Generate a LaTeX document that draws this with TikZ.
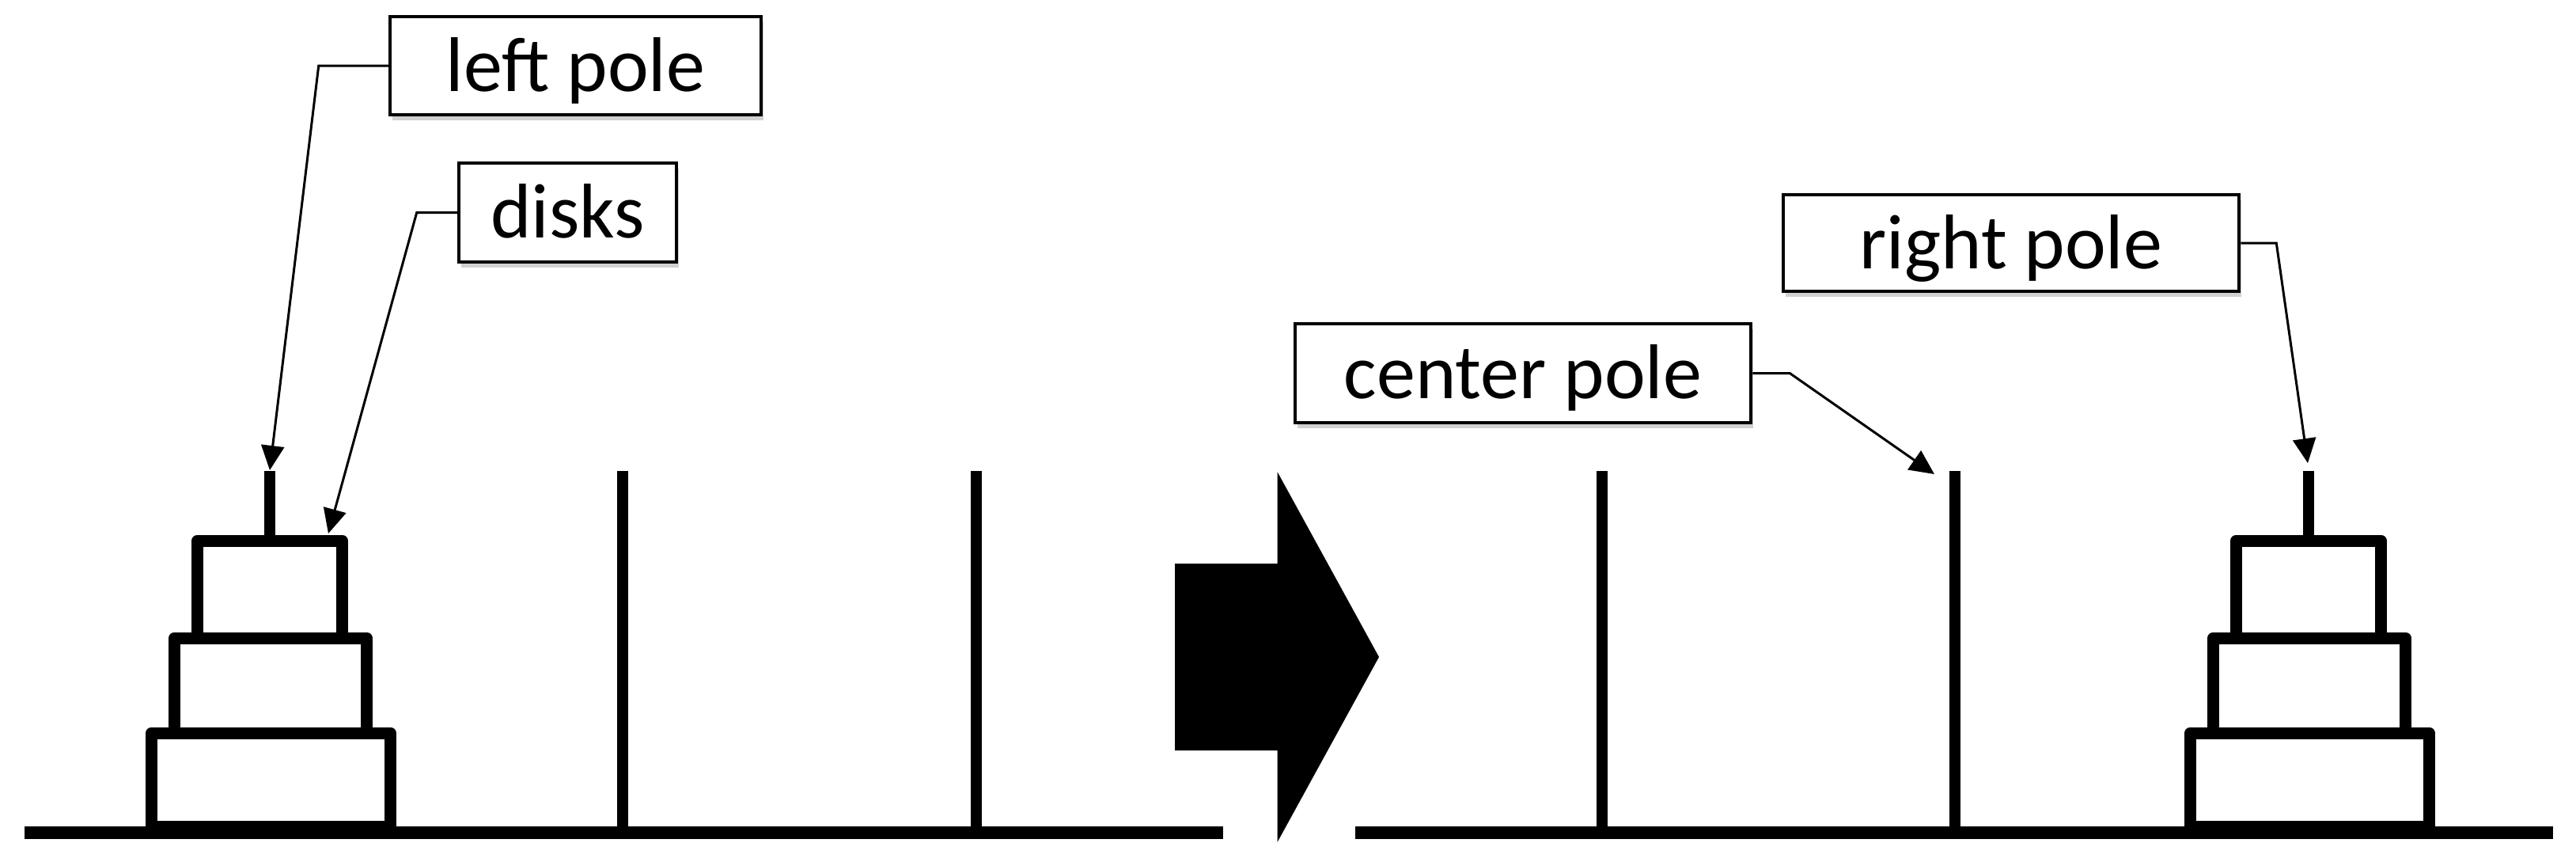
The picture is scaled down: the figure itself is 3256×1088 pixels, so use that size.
\documentclass[tikz,border=0pt]{standalone}
\usepackage{fontspec}
\setmainfont{Carlito}
\usetikzlibrary{arrows.meta,shadows}
\begin{document}
\begin{tikzpicture}[x=1pt,y=-1pt,
  label box/.style={draw=black,line width=4.5pt,fill=white,inner sep=0pt,
    font=\fontsize{98}{116}\selectfont,text height=84pt,text depth=20pt,
    drop shadow={shadow xshift=3pt,shadow yshift=-7pt,fill=black,opacity=0.18}},
  callout/.style={draw=black,line width=3pt,-{Triangle[length=31pt,width=29pt]}},
  pole/.style={line width=14pt},
  base/.style={line width=16pt},
  disk/.style={draw=black,line width=15pt,fill=white,line join=round}]
\useasboundingbox (0,0) rectangle (3256,1088);
% bases
\draw[base] (31,1052) coordinate (bl1) -- (1546,1052) coordinate (bl2);
\draw[base] (1713,1052) coordinate (br1) -- (3227,1052) coordinate (br2);
% poles
\foreach \x/\n in {341/a,787/b,1234/c,2025/d,2471/e,2918/f}{
  \coordinate (top\n) at (\x,595);
  \draw[pole] (top\n) -- (\x,1052);
}
% disks left
\draw[disk] (191.5,926) rectangle (493.5,1044);
\draw[disk] (220.5,806) rectangle (463.5,926);
\draw[disk] (249.5,683) rectangle (432.5,806);
% disks right
\begin{scope}[xshift=2577pt]
\draw[disk] (191.5,926) rectangle (493.5,1044);
\draw[disk] (220.5,806) rectangle (463.5,926);
\draw[disk] (249.5,683) rectangle (432.5,806);
\end{scope}
% big arrow
\fill[black] (1485,712) -- (1614.5,712) -- (1614.5,596) -- (1743,830)
  -- (1614.5,1064) -- (1614.5,948) -- (1485,948) -- cycle;
% labels
\node[label box,minimum width=469pt,minimum height=124pt] (lp) at (727.5,83) {left pole};
\node[label box,minimum width=275pt,minimum height=125pt] (dk) at (717.5,268.5) {disks};
\node[label box,minimum width=576pt,minimum height=125pt] (cp) at (1925,471.5) {center pole};
\node[label box,minimum width=576pt,minimum height=122pt] (rp) at (2542,307) {right pole};
% targets
\coordinate (tlp) at (341,594);
\coordinate (tdk) at (415,674);
\coordinate (tcp) at (2445,599);
\coordinate (trp) at (2917,585);
% callouts
\draw[callout] (lp.west) -- ++(-88,0) -- (tlp);
\draw[callout] (dk.west) -- ++(-51,0) -- (tdk);
\draw[callout] (cp.east) -- ++(47,0) -- (tcp);
\draw[callout] (rp.east) -- ++(45,0) -- (trp);
\end{tikzpicture}
\end{document}
